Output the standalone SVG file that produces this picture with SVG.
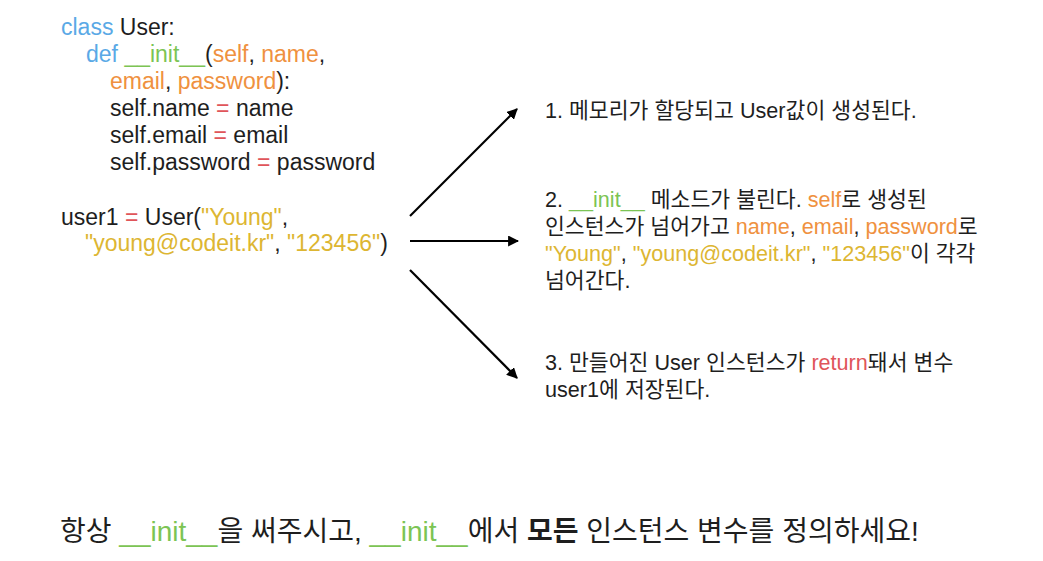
<svg xmlns="http://www.w3.org/2000/svg" width="1043" height="561" viewBox="0 0 1043 561">
<defs>
<style>
text{font-family:"Liberation Sans","Noto Sans CJK KR",sans-serif;fill:#1e1e1e;white-space:pre}
.code{font-size:23px}
.note{font-size:21.6px}
.tip{font-size:28px}
.kw{fill:#5aa9e6}
.fn{fill:#7cc454}
.arg{fill:#ef9140}
.str{fill:#ddb632}
.op{fill:#e0555a}
.b{font-weight:bold}
.conn{stroke:#000;stroke-width:2.2;fill:none;marker-end:url(#ah)}
</style>
<marker id="ah" viewBox="0 0 10 10" refX="9" refY="5" markerWidth="5" markerHeight="5" orient="auto" markerUnits="strokeWidth">
<path d="M0,0 L10,5 L0,10 z" fill="#000"/>
</marker>
</defs>
<rect width="1043" height="561" fill="#fff"/>
<g id="code">
<text class="code" x="61" y="35"><tspan class="kw">class</tspan> User:</text>
<text class="code" x="86" y="62"><tspan class="kw">def</tspan> <tspan class="fn">__init__</tspan>(<tspan class="arg">self</tspan>, <tspan class="arg">name</tspan>,</text>
<text class="code" x="110" y="89"><tspan class="arg">email</tspan>, <tspan class="arg">password</tspan>):</text>
<text class="code" x="110" y="116">self.name <tspan class="op">=</tspan> name</text>
<text class="code" x="110" y="143">self.email <tspan class="op">=</tspan> email</text>
<text class="code" x="110" y="170">self.password <tspan class="op">=</tspan> password</text>
<text class="code" x="61" y="225">user1 <tspan class="op">=</tspan> User(<tspan class="str">"Young"</tspan>,</text>
<text class="code" x="85" y="251"><tspan class="str">"young@codeit.kr"</tspan>, <tspan class="str">"123456"</tspan>)</text>
</g>
<g id="connectors">
<line class="conn" x1="410" y1="216" x2="517" y2="109"/>
<line class="conn" x1="410" y1="241" x2="518" y2="241"/>
<line class="conn" x1="410" y1="270" x2="517" y2="378"/>
</g>
<g id="step1">
<text class="note" x="545" y="118">1. 메모리가 할당되고 User값이 생성된다.</text>
</g>
<g id="step2">
<text class="note" x="545" y="207">2. <tspan class="fn">__init__</tspan> 메소드가 불린다. <tspan class="arg">self</tspan>로 생성된</text>
<text class="note" x="545" y="234">인스턴스가 넘어가고 <tspan class="arg">name</tspan>, <tspan class="arg">email</tspan>, <tspan class="arg">password</tspan>로</text>
<text class="note" x="545" y="261"><tspan class="str">"Young"</tspan>, <tspan class="str">"young@codeit.kr"</tspan>, <tspan class="str">"123456"</tspan>이 각각</text>
<text class="note" x="545" y="288">넘어간다.</text>
</g>
<g id="step3">
<text class="note" x="545" y="370">3. 만들어진 User 인스턴스가 <tspan class="op">return</tspan>돼서 변수</text>
<text class="note" x="545" y="397">user1에 저장된다.</text>
</g>
<g id="tip">
<text class="tip" x="60" y="541">항상 <tspan class="fn">__init__</tspan>을 써주시고, <tspan class="fn">__init__</tspan>에서 <tspan class="b">모든</tspan> 인스턴스 변수를 정의하세요!</text>
</g>
</svg>
